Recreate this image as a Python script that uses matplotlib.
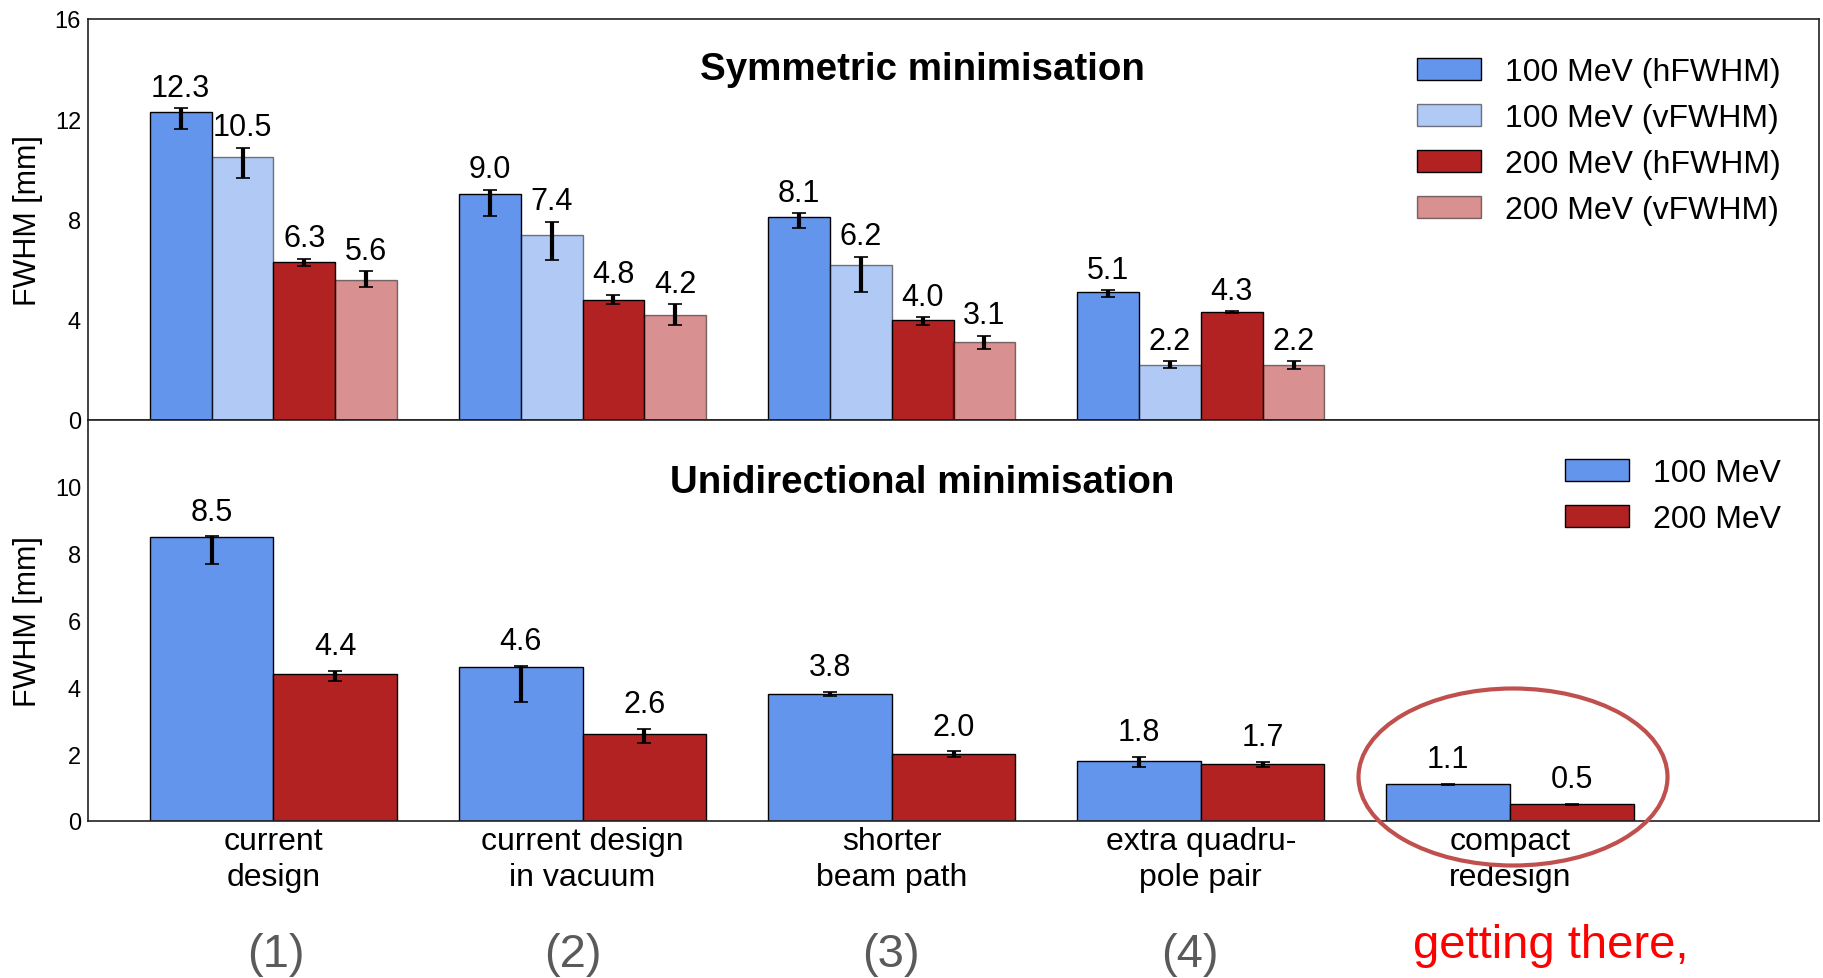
import matplotlib
matplotlib.use("Agg")
import matplotlib.pyplot as plt
from matplotlib.patches import Ellipse
import numpy as np

plt.rcParams['font.family'] = ['Liberation Sans', 'DejaVu Sans']

# ---- data -------------------------------------------------------------
categories = ["current\ndesign", "current design\nin vacuum", "shorter\nbeam path",
              "extra quadru-\npole pair", "compact\nredesign"]
group_tags = ["(1)", "(2)", "(3)", "(4)"]

# symmetric minimisation (first four configurations)
sym_labels = ["100 MeV (hFWHM)", "100 MeV (vFWHM)", "200 MeV (hFWHM)", "200 MeV (vFWHM)"]
sym_100_h = [12.3, 9.0, 8.1, 5.1]
sym_100_v = [10.5, 7.4, 6.2, 2.2]
sym_200_h = [6.3, 4.8, 4.0, 4.3]
sym_200_v = [5.6, 4.2, 3.1, 2.2]
# asymmetric errors: (lower, upper)
sym_100_h_err = ([0.67, 0.86, 0.44, 0.21], [0.13, 0.19, 0.15, 0.08])
sym_100_v_err = ([0.84, 1.01, 1.09, 0.13], [0.36, 0.52, 0.32, 0.15])
sym_200_h_err = ([0.16, 0.17, 0.19, 0.04], [0.13, 0.19, 0.09, 0.04])
sym_200_v_err = ([0.30, 0.40, 0.27, 0.15], [0.33, 0.41, 0.27, 0.15])

# unidirectional minimisation (all five configurations)
uni_labels = ["100 MeV", "200 MeV"]
uni_100 = [8.5, 4.6, 3.8, 1.8, 1.1]
uni_200 = [4.4, 2.6, 2.0, 1.7, 0.5]
uni_100_err = ([0.82, 1.05, 0.06, 0.17, 0.01], [0.02, 0.05, 0.06, 0.11, 0.01])
uni_200_err = ([0.20, 0.27, 0.08, 0.07, 0.01], [0.10, 0.15, 0.08, 0.06, 0.01])

# ---- style ------------------------------------------------------------
BLUE = "#6495ED"
RED = "#B22222"
SPINE = "#222222"
err_kw = dict(ecolor="black", elinewidth=3, capsize=5, capthick=1.2)
leg_kw = dict(loc="upper right", frameon=False, fontsize=23, handlelength=2.0,
              handleheight=0.68, labelspacing=0.5, handletextpad=0.75,
              borderpad=0, borderaxespad=0)

fig = plt.figure(figsize=(18.24, 9.79), dpi=100)
left, width = 88 / 1824, 1731 / 1824
y_mid = 1 - 421 / 979
y_top = 1 - 20 / 979
y_bot = 1 - 822 / 979
ax1 = fig.add_axes([left, y_mid, width, y_top - y_mid])
ax2 = fig.add_axes([left, y_bot, width, y_mid - y_bot])

for ax in (ax1, ax2):
    for s in ax.spines.values():
        s.set_color(SPINE)
        s.set_linewidth(1.2)
    ax.tick_params(axis="both", length=0, labelsize=17, pad=5)
    ax.set_xlim(-0.6, 5.0)
    ax.set_ylabel("FWHM [mm]", fontsize=22)
    ax.yaxis.set_label_coords(-0.026, 0.5)


def label_bars(ax, xs, vals, err_up, offset=0.5):
    for x, v, e in zip(xs, vals, err_up):
        ax.text(x, v + e + offset, f"{v:.1f}", ha="center", va="baseline",
                fontsize=22)


# ---- symmetric --------------------------------------------------------
x4 = np.arange(len(sym_100_h))
w = 0.2
series = [
    (sym_100_h, sym_100_h_err, BLUE, 1.0),
    (sym_100_v, sym_100_v_err, BLUE, 0.5),
    (sym_200_h, sym_200_h_err, RED, 1.0),
    (sym_200_v, sym_200_v_err, RED, 0.5),
]
handles = []
for k, (vals, err, col, a) in enumerate(series):
    xs = x4 + (k - 1.5) * w
    b = ax1.bar(xs, vals, width=w, color=col, alpha=a, edgecolor="black",
                linewidth=1.0, zorder=2)
    ax1.errorbar(xs, vals, yerr=err, fmt="none", zorder=3, **err_kw)
    label_bars(ax1, xs, vals, err[1])
    handles.append(b)

ax1.set_ylim(0, 16)
ax1.set_yticks([0, 4, 8, 12, 16])
ax1.set_xticks([])
ax1.legend(handles, sym_labels, bbox_to_anchor=(0.978, 0.905), **leg_kw)

# ---- unidirectional ---------------------------------------------------
x5 = np.arange(len(uni_100))
w2 = 0.4
handles2 = []
for k, (vals, err, col) in enumerate([(uni_100, uni_100_err, BLUE),
                                      (uni_200, uni_200_err, RED)]):
    xs = x5 + (k - 0.5) * w2
    b = ax2.bar(xs, vals, width=w2, color=col, edgecolor="black",
                linewidth=1.0, zorder=2)
    ax2.errorbar(xs, vals, yerr=err, fmt="none", zorder=3, **err_kw)
    label_bars(ax2, xs, vals, err[1])
    handles2.append(b)

ax2.set_ylim(0, 12)
ax2.set_yticks([0, 2, 4, 6, 8, 10])
ax2.set_xticks(x5)
ax2.set_xticklabels(categories, fontsize=23, linespacing=1.25)
ax2.tick_params(axis="x", pad=3.5)
ax2.legend(handles2, uni_labels, bbox_to_anchor=(0.978, 0.905), **leg_kw)

# ---- titles and annotations ------------------------------------------
fig.text(922 / 1824, 1 - 70 / 979, "Symmetric minimisation", ha="center",
         va="center", fontsize=27.7, fontweight="bold")
fig.text(922 / 1824, 1 - 483 / 979, "Unidirectional minimisation", ha="center",
         va="center", fontsize=27.7, fontweight="bold")

for tag, xpx in zip(group_tags, [276, 573, 891, 1190]):
    fig.text(xpx / 1824, 1 - 967 / 979, tag, ha="center", va="baseline",
             fontsize=34, color="#5a5a5a")

fig.text(1551 / 1824, 1 - 958 / 979, "getting there,", ha="center",
         va="baseline", fontsize=34, color="#ff0000")

fig.patches.append(Ellipse((1513 / 1824, 1 - 778 / 979), 309 / 1824, 177 / 979,
                           transform=fig.transFigure, fill=False,
                           edgecolor="#c0504d", linewidth=3, zorder=10))

fig.savefig("out.png", dpi=100)
